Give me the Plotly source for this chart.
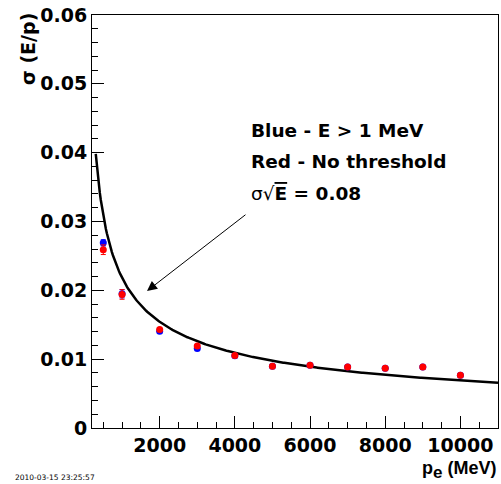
import numpy as np
import plotly.graph_objects as go

# Electron momentum points (MeV)
p_e = [500, 1000, 2000, 3000, 4000, 5000, 6000, 7000, 8000, 9000, 10000]

# sigma(E/p) with a 1 MeV hit threshold (blue)
sigma_thr = [0.0269, 0.0195, 0.01405, 0.01155, 0.0105, 0.00897, 0.0091, 0.00887, 0.00867, 0.00887, 0.00766]
err_thr = [0.00045, 0.0006, 0.0002, 0.0002, 0.0002, 0.00015, 0.00015, 0.00015, 0.00015, 0.00015, 0.00015]

# sigma(E/p) without threshold (red)
sigma_all = [0.0259, 0.0194, 0.0143, 0.0119, 0.01052, 0.00897, 0.00911, 0.00887, 0.00867, 0.00887, 0.00766]
err_all = [0.0007, 0.0007, 0.0002, 0.0002, 0.0002, 0.00015, 0.00015, 0.00015, 0.00015, 0.00015, 0.00015]

# Reference resolution curve sigma = a / sqrt(p), a fixed by sigma*sqrt(E) = 0.08
curve_coeff = 0.69
curve_p = np.linspace(300, 11000, 400)
curve_sigma = curve_coeff / np.sqrt(curve_p)

X_RANGE = [200, 11000]
Y_RANGE = [0, 0.06]

BOLD = dict(family="DejaVu Sans", weight="bold", color="black")

fig = go.Figure()

fig.add_trace(go.Scatter(
    x=curve_p, y=curve_sigma, mode="lines",
    line=dict(color="black", width=2.5), hoverinfo="skip", showlegend=False))

fig.add_trace(go.Scatter(
    x=p_e, y=sigma_thr, mode="markers",
    marker=dict(color="#0000ff", size=7, symbol="circle"),
    error_y=dict(type="data", array=err_thr, color="#0000ff", thickness=1, width=2.5),
    showlegend=False))

fig.add_trace(go.Scatter(
    x=p_e, y=sigma_all, mode="markers",
    marker=dict(color="#ff0000", size=7, symbol="circle"),
    error_y=dict(type="data", array=err_all, color="#ff0000", thickness=1, width=2.5),
    showlegend=False))

tick_style = dict(
    ticks="inside", ticklen=12, tickwidth=1, tickcolor="black",
    showgrid=False, zeroline=False,
)
x_ticks = dict(range=X_RANGE, tick0=0, dtick=2000,
               minor=dict(dtick=500, ticks="inside", ticklen=6, tickcolor="black", showgrid=False))
y_ticks = dict(range=Y_RANGE, tick0=0, dtick=0.01,
               minor=dict(dtick=0.002, ticks="inside", ticklen=6, tickcolor="black", showgrid=False))

fig.update_layout(
    xaxis=dict(showline=True, linecolor="black", linewidth=1, mirror=True,
               tickformat="d", tickfont=dict(size=19, **BOLD), **tick_style, **x_ticks),
    yaxis=dict(showline=True, linecolor="black", linewidth=1, mirror=True,
               tickfont=dict(size=19, **BOLD), **tick_style, **y_ticks),
    # frame ticks on the top and right edges
    xaxis2=dict(overlaying="x", side="top", showticklabels=False, showline=False,
                **tick_style, **x_ticks),
    yaxis2=dict(overlaying="y", side="right", showticklabels=False, showline=False,
                **tick_style, **y_ticks),
)

PLOT_L, PLOT_R, PLOT_T, PLOT_B = 92, 497.7, 15, 427.7


def px_to_paper(px, py):
    return (px - PLOT_L) / (PLOT_R - PLOT_L), (PLOT_B - py) / (PLOT_B - PLOT_T)


annotations = []

# Explanatory text block
for text, py in [("Blue - E &gt; 1 MeV", 130),
                 ("Red - No threshold", 161.5),
                 ("<span style='font-weight:normal'>σ√</span>"
                  "<span style='text-decoration:overline'>E</span> = 0.08", 193)]:
    xp, yp = px_to_paper(249, py)
    annotations.append(dict(
        x=xp, y=yp, xref="paper", yref="paper", xanchor="left", yanchor="middle",
        text=text, showarrow=False, font=dict(size=18.5, **BOLD)))

# Arrow pointing at the reference curve
annotations.append(dict(
    x=1663, y=0.0199, ax=4323, ay=0.03115, xref="x", yref="y", axref="x", ayref="y",
    text="", showarrow=True, arrowhead=2, arrowsize=2, arrowwidth=1, arrowcolor="black"))

# Axis titles
xp, yp = px_to_paper(28, 49)
annotations.append(dict(
    x=xp, y=yp, xref="paper", yref="paper", xanchor="center", yanchor="middle",
    text="σ (E/p)", textangle=-90, showarrow=False, font=dict(size=19, **BOLD)))

xp, yp = px_to_paper(498, 470)
annotations.append(dict(
    x=xp, y=yp, xref="paper", yref="paper", xanchor="right", yanchor="middle",
    text="p<sub><span style='font-size:17px'>e</span></sub> (MeV)", showarrow=False,
    font=dict(family="Liberation Sans", size=18, weight="bold", color="black")))

# Timestamp
xp, yp = px_to_paper(13, 477)
annotations.append(dict(
    x=xp, y=yp, xref="paper", yref="paper", xanchor="left", yanchor="middle",
    text="2010-03-15 23:25:57", showarrow=False,
    font=dict(family="DejaVu Sans", size=7.5, color="black")))

fig.update_layout(
    width=501, height=484,
    margin=dict(l=PLOT_L, r=501 - PLOT_R, t=PLOT_T, b=484 - PLOT_B, pad=0),
    paper_bgcolor="white", plot_bgcolor="white",
    annotations=annotations,
    showlegend=False,
)

fig.write_html("out.html", config={"displayModeBar": False})
